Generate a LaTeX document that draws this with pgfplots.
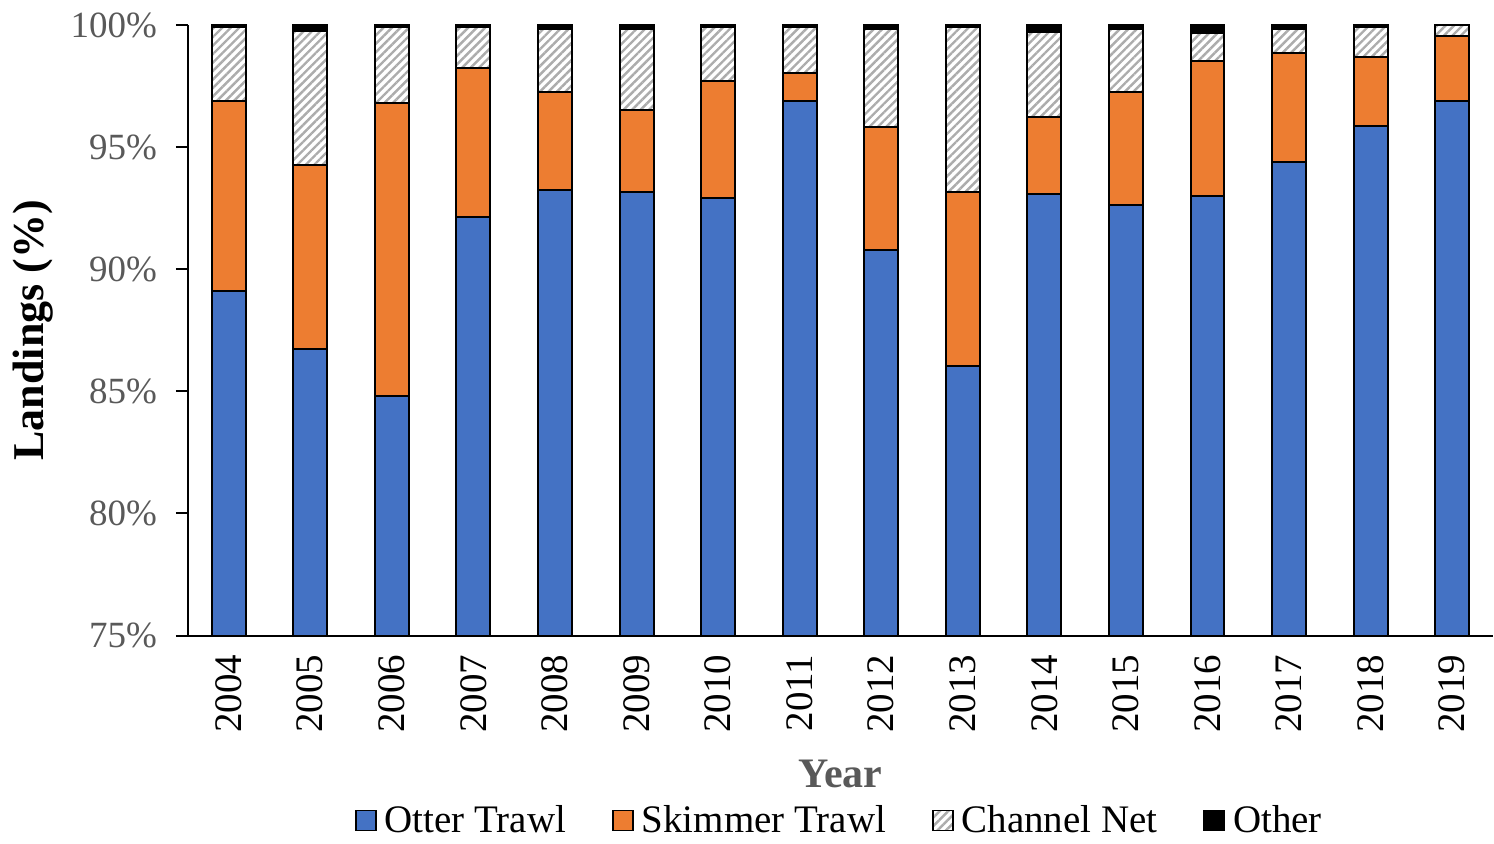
\documentclass[border=0pt]{standalone}
\usepackage{fontspec}
\setmainfont{Liberation Serif}
\usepackage{pgfplots}
\pgfplotsset{compat=1.18}
\usetikzlibrary{patterns.meta}

\definecolor{otter}{HTML}{4472C4}
\definecolor{skimmer}{HTML}{ED7D31}
\definecolor{tickgray}{HTML}{595959}

\begin{document}
\begin{tikzpicture}
  \begin{axis}[
      ybar stacked,
      bar width=17pt,
      scale only axis,
      width=653pt, height=305.5pt,
      xmin=-0.5, xmax=15.5,
      ymin=75, ymax=100,
      axis lines=left,
      axis line style={-, line width=1pt},
      xtick={0,...,15},
      xticklabels={2004,2005,2006,2007,2008,2009,2010,2011,2012,2013,2014,2015,2016,2017,2018,2019},
      x tick label style={rotate=90, anchor=east, font=\fontsize{19.5}{22}\selectfont},
      xtick style={draw=none},
      minor xtick={-0.5,0.5,...,15.5},
      minor x tick style={black, line width=1pt},
      minor tick length=5.5pt,
      ytick={75,80,85,90,95,100},
      yticklabels={75\%,80\%,85\%,90\%,95\%,100\%},
      y tick label style={font=\fontsize{18.5}{21}\selectfont, text=tickgray, xshift=-6pt},
      ytick style={black, line width=1pt},
      major tick length=6pt,
      tick align=outside,
      xlabel={\textbf{Year}},
      xlabel style={font=\fontsize{21}{24}\selectfont, text=tickgray,
        at={(axis description cs:0.5,-0.226)}, anchor=center},
      ylabel={\textbf{Landings (\%)}},
      ylabel style={font=\fontsize{22}{25}\selectfont,
        at={(axis description cs:-0.1187,0.5)}, anchor=center},
      legend columns=4,
      legend style={draw=none, fill=none, at={(0.5,-0.303)}, anchor=center,
        font=\fontsize{19.5}{22}\selectfont,
        /tikz/every odd column/.append style={column sep=2pt},
        /tikz/every even column/.append style={column sep=21pt}},
      legend image code/.code={\draw[#1, line width=0.8pt] (0pt,-5pt) rectangle (10pt,5pt);},
      every axis plot/.append style={draw=black, line width=1pt},
    ]
    % Otter Trawl
    \addplot[fill=otter] coordinates {
      (0,89.12) (1,86.74) (2,84.82) (3,92.14) (4,93.25) (5,93.18) (6,92.91) (7,96.90)
      (8,90.77) (9,86.05) (10,93.09) (11,92.61) (12,92.98) (13,94.37) (14,95.88) (15,96.90)
    };
    % Skimmer Trawl
    \addplot[fill=skimmer] coordinates {
      (0,7.77) (1,7.53) (2,11.99) (3,6.10) (4,4.01) (5,3.34) (6,4.80) (7,1.15)
      (8,5.04) (9,7.11) (10,3.16) (11,4.66) (12,5.56) (13,4.47) (14,2.82) (15,2.66)
    };
    % Channel Net
    \addplot[pattern={Lines[angle=45, distance=3pt, line width=1.2pt]}, pattern color=gray!65] coordinates {
      (0,3.01) (1,5.50) (2,3.09) (3,1.66) (4,2.59) (5,3.32) (6,2.19) (7,1.85)
      (8,4.03) (9,6.77) (10,3.48) (11,2.57) (12,1.12) (13,1.00) (14,1.20) (15,0.42)
    };
    % Other
    \addplot[fill=black] coordinates {
      (0,0.10) (1,0.23) (2,0.10) (3,0.10) (4,0.15) (5,0.16) (6,0.10) (7,0.10)
      (8,0.16) (9,0.07) (10,0.27) (11,0.16) (12,0.34) (13,0.16) (14,0.10) (15,0.02)
    };
    \legend{Otter Trawl, Skimmer Trawl, Channel Net, Other}
  \end{axis}
  \path ([shift={(-94pt,-103.5pt)}]current axis.south west) rectangle +(747pt,421.5pt);
\end{tikzpicture}
\end{document}
